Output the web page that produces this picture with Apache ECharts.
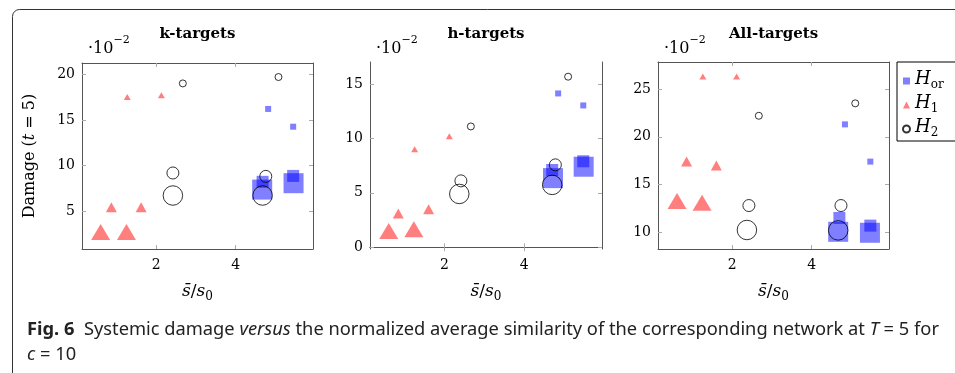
<!DOCTYPE html>
<html>
<head>
<meta charset="utf-8">
<script src="https://cdn.jsdelivr.net/npm/echarts@6/dist/echarts.min.js"></script>
<style>
  html, body { margin: 0; padding: 0; background: #fff; }
  #chart { width: 955px; height: 373px; }
</style>
</head>
<body>
<div id="chart"></div>
<script>
// point order in every series: small, small, medium, medium, large, large
const kHorX = [4.82, 5.45, 4.68, 5.45, 4.67, 5.46];
const kHorY = [16.2, 14.25, 8.2, 8.85, 7.35, 8.05];
const kH1X = [1.27, 2.13, 0.87, 1.62, 0.6, 1.25];
const kH1Y = [17.5, 17.7, 5.4, 5.4, 2.7, 2.7];
const kH2X = [2.67, 5.08, 2.42, 4.76, 2.42, 4.68];
const kH2Y = [19.0, 19.7, 9.17, 8.8, 6.7, 6.7];

const hHorX = [4.85, 5.48, 4.7, 5.48, 4.72, 5.49];
const hHorY = [14.13, 13.03, 7.1, 7.9, 6.35, 7.4];
const hH1X = [1.25, 2.12, 0.84, 1.6, 0.6, 1.23];
const hH1Y = [9.0, 10.2, 3.1, 3.5, 1.5, 1.65];
const hH2X = [2.66, 5.1, 2.41, 4.78, 2.37, 4.7];
const hH2Y = [11.1, 15.67, 6.1, 7.57, 4.9, 5.73];

const aHorX = [4.84, 5.48, 4.7, 5.48, 4.67, 5.47];
const aHorY = [21.3, 17.4, 11.5, 10.7, 10.05, 9.95];
const aH1X = [1.26, 2.11, 0.85, 1.6, 0.61, 1.24];
const aH1Y = [26.3, 26.3, 17.4, 17.0, 13.28, 13.1];
const aH2X = [2.67, 5.1, 2.42, 4.74, 2.37, 4.67];
const aH2Y = [22.2, 23.5, 12.8, 12.8, 10.24, 10.2];

const panelTitles = ['k-targets', 'h-targets', 'All-targets'];
const xTicks = [2, 4];
const yTicks = [[5, 10, 15, 20], [0, 5, 10, 15], [10, 15, 20, 25]];
const yRanges = [[0.83, 21.24], [-0.16, 17.02], [8.25, 27.83]];
const xRange = [0.13, 5.95];

const grids = [
  { left: 82, top: 63, width: 231, height: 186 },
  { left: 370, top: 62, width: 232, height: 187 },
  { left: 658, top: 62, width: 231, height: 187 }
];

const serif = 'DejaVu Serif';
const boxColor = '#555';
const tickColor = '#aaa';

const sqSizes = [6, 12, 20];
const triSizes = [[7, 6], [11, 10], [19, 16]];
const circSizes = [7, 12, 19.5];

let xAxes = [], yAxes = [];
grids.forEach((g, i) => {
  xAxes.push({
    type: 'value', gridIndex: i, position: 'bottom', min: xRange[0], max: xRange[1],
    axisLine: { show: true, lineStyle: { color: boxColor } },
    axisTick: { show: true, inside: true, length: 4, customValues: xTicks, lineStyle: { color: tickColor } },
    axisLabel: { customValues: xTicks, color: '#000', fontFamily: serif, fontSize: 14, margin: 9 },
    splitLine: { show: false },
    name: '{i|s\u0304}{a|/}{i|s}{sub|0}',
    nameLocation: 'middle', nameGap: 34,
    nameTextStyle: {
      rich: {
        i: { fontFamily: serif, fontStyle: 'italic', fontSize: 17, color: '#000', verticalAlign: 'top' },
        a: { fontFamily: serif, fontSize: 17, color: '#000', verticalAlign: 'top' },
        sub: { fontFamily: serif, fontSize: 12, color: '#000', verticalAlign: 'top', padding: [8, 0, 0, 0] }
      }
    }
  });
  xAxes.push({
    type: 'value', gridIndex: i, position: 'top', min: xRange[0], max: xRange[1],
    axisLine: { show: true, lineStyle: { color: boxColor } },
    axisTick: { show: true, inside: true, length: 4, customValues: xTicks, lineStyle: { color: tickColor } },
    axisLabel: { show: false },
    splitLine: { show: false }
  });
  yAxes.push({
    type: 'value', gridIndex: i, position: 'left', min: yRanges[i][0], max: yRanges[i][1],
    axisLine: { show: true, lineStyle: { color: boxColor } },
    axisTick: { show: true, inside: true, length: 4, customValues: yTicks[i], lineStyle: { color: tickColor } },
    axisLabel: { customValues: yTicks[i], color: '#000', fontFamily: serif, fontSize: 14, margin: 7 },
    splitLine: { show: false },
    name: i === 0 ? '{a|Damage (}{i|t}{a| = 5)}' : '',
    nameLocation: 'middle', nameGap: 44, nameRotate: 90,
    nameTextStyle: {
      rich: {
        i: { fontFamily: serif, fontStyle: 'italic', fontSize: 16, color: '#000' },
        a: { fontFamily: serif, fontSize: 16, color: '#000' }
      }
    }
  });
  yAxes.push({
    type: 'value', gridIndex: i, position: 'right', min: yRanges[i][0], max: yRanges[i][1],
    axisLine: { show: true, lineStyle: { color: boxColor } },
    axisTick: { show: true, inside: true, length: 4, customValues: yTicks[i], lineStyle: { color: tickColor } },
    axisLabel: { show: false },
    splitLine: { show: false }
  });
});

function pairs(xs, ys) {
  return xs.map((x, i) => [x, ys[i]]);
}

const panels = [
  [kHorX, kHorY, kH1X, kH1Y, kH2X, kH2Y],
  [hHorX, hHorY, hH1X, hH1Y, hH2X, hH2Y],
  [aHorX, aHorY, aH1X, aH1Y, aH2X, aH2Y]
];

let series = [];
panels.forEach((p, i) => {
  series.push({
    type: 'scatter', name: 'Hor', xAxisIndex: i * 2, yAxisIndex: i * 2,
    data: pairs(p[0], p[1]), symbol: 'rect',
    symbolSize: (v, prm) => sqSizes[Math.floor(prm.dataIndex / 2)],
    itemStyle: { color: 'rgb(0,0,255)', opacity: 0.5 }
  });
  series.push({
    type: 'scatter', name: 'H1', xAxisIndex: i * 2, yAxisIndex: i * 2,
    data: pairs(p[2], p[3]), symbol: 'triangle',
    symbolSize: (v, prm) => triSizes[Math.floor(prm.dataIndex / 2)],
    itemStyle: { color: 'rgb(255,0,0)', opacity: 0.5 }
  });
  series.push({
    type: 'scatter', name: 'H2', xAxisIndex: i * 2, yAxisIndex: i * 2,
    data: pairs(p[4], p[5]), symbol: 'circle',
    symbolSize: (v, prm) => circSizes[Math.floor(prm.dataIndex / 2)],
    itemStyle: { color: 'rgba(0,0,0,0)', borderColor: '#000', borderWidth: 1 }
  });
});

const legendLabels = { Hor: '{h|H}{sub|or}', H1: '{h|H}{sub|1}', H2: '{h|H}{sub|2}' };

const capFont = 18.3;
let graphics = [
  {
    type: 'rect', shape: { x: 12.5, y: 9.5, width: 1000, height: 500, r: 7 },
    style: { fill: 'none', stroke: '#333', lineWidth: 1 }, silent: true
  },
  {
    type: 'text', x: 27, y: 330,
    style: {
      text: '{b|Fig. 6}  Systemic damage {i|versus} the normalized average similarity of the corresponding network at {i|T} = 5 for',
      font: capFont + 'px "Noto Sans"', fill: '#222', textVerticalAlign: 'middle',
      rich: {
        b: { fontFamily: 'Noto Sans', fontWeight: 'bold', fontSize: capFont, fill: '#222' },
        i: { fontFamily: 'Noto Sans', fontStyle: 'italic', fontSize: capFont, fill: '#222' }
      }
    }
  },
  {
    type: 'text', x: 27, y: 355,
    style: {
      text: '{i|c} = 10',
      font: capFont + 'px "Noto Sans"', fill: '#222', textVerticalAlign: 'middle',
      rich: { i: { fontFamily: 'Noto Sans', fontStyle: 'italic', fontSize: capFont, fill: '#222' } }
    }
  }
];

grids.forEach((g, i) => {
  graphics.push({
    type: 'text', x: g.left + g.width / 2, y: 34,
    style: {
      text: panelTitles[i], font: 'bold 15px "DejaVu Serif"', fill: '#000',
      textAlign: 'center', textVerticalAlign: 'middle'
    }
  });
  graphics.push({
    type: 'text', x: g.left + 6, y: 46,
    style: {
      text: '{m|\u00b710}{s|\u22122}',
      textVerticalAlign: 'middle',
      rich: {
        m: { fontFamily: serif, fontSize: 16, fill: '#000', verticalAlign: 'top', padding: [6, 0, 0, 0] },
        s: { fontFamily: serif, fontSize: 11, fill: '#000', verticalAlign: 'top' }
      }
    }
  });
});

const chart = echarts.init(document.getElementById('chart'));
chart.setOption({
  animation: false,
  grid: grids,
  xAxis: xAxes,
  yAxis: yAxes,
  legend: {
    data: [{ name: 'Hor', icon: 'rect' }, { name: 'H1', icon: 'triangle' }, { name: 'H2', icon: 'circle' }],
    orient: 'vertical', left: 897, top: 62,
    itemWidth: 7, itemHeight: 7, itemGap: 3,
    borderColor: '#000', borderWidth: 1, padding: [8, 30, 2, 5],
    formatter: (name) => legendLabels[name],
    textStyle: {
      rich: {
        h: { fontFamily: serif, fontStyle: 'italic', fontSize: 18, color: '#000', verticalAlign: 'top', lineHeight: 22 },
        sub: { fontFamily: serif, fontSize: 12, color: '#000', verticalAlign: 'top', padding: [9, 0, 0, 0] }
      }
    }
  },
  series: series,
  graphic: graphics
});
</script>
</body>
</html>
